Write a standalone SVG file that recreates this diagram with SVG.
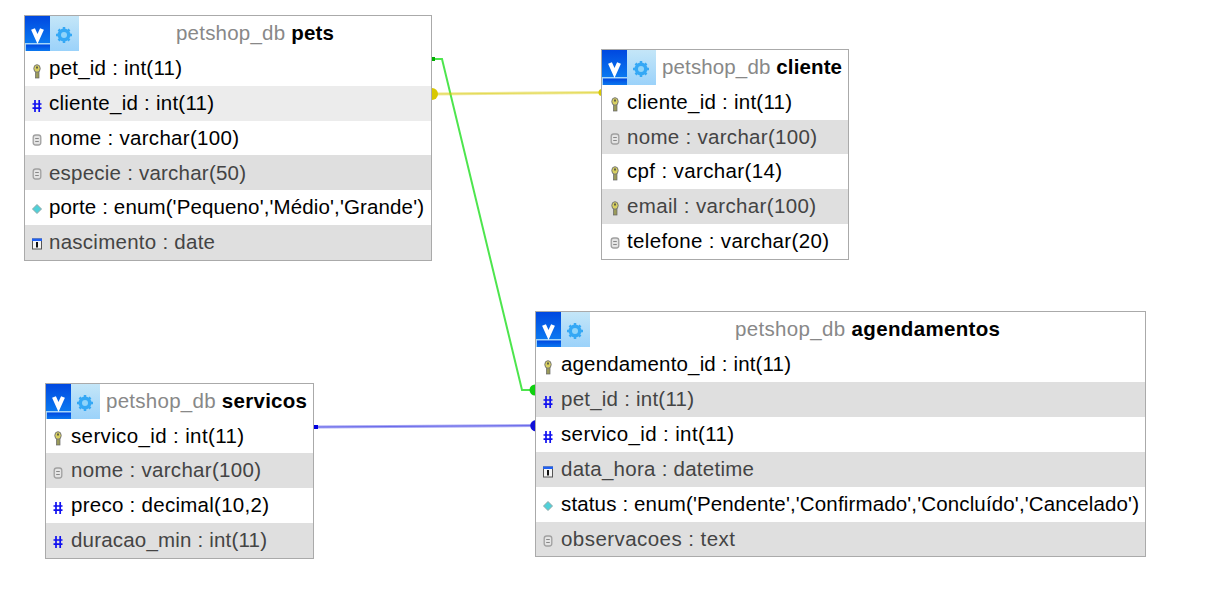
<svg xmlns="http://www.w3.org/2000/svg" width="1219" height="593" viewBox="0 0 1219 593">
<style>
text{font-family:"Liberation Sans",Arial,sans-serif;font-size:20.500px;fill:#000}
.box{fill:#fff;stroke:#aaa;stroke-width:1}
.alt{fill:#dfdfdf}
.hov{fill:#ececec}
.dim{fill:#444}
.db{fill:#888}
.tbl{font-weight:bold;fill:#000}
.halo{stroke-width:3;stroke-opacity:.4}
.core{stroke-width:1;stroke-opacity:.45}
</style>
<defs>
<linearGradient id="panel" x1="0" y1="0" x2="0" y2="1"><stop offset="0" stop-color="#c4e6f8"/><stop offset="1" stop-color="#9bd2fa"/></linearGradient>
<linearGradient id="blue" x1="0" y1="0" x2="0" y2="1"><stop offset="0" stop-color="#0048e0"/><stop offset="1" stop-color="#0a78f0"/></linearGradient>
<g id="logo">
<rect x="0" y="0" width="54" height="35" fill="url(#panel)"/>
<rect x="0" y="0" width="25" height="27" fill="url(#blue)"/>
<rect x="1" y="28.500" width="24" height="6.500" fill="url(#blue)"/>
<path d="M8 13L12.500 23L17 13" fill="none" stroke="#fff" stroke-width="4.200"/>
<circle cx="39" cy="19" r="6.500" fill="#35a8f5"/>
<path d="M39 11V27M31 19H47M33.500 13.500L44.500 24.500M44.500 13.500L33.500 24.500" stroke="#35a8f5" stroke-width="2.500"/>
<circle cx="39" cy="19" r="3" fill="#8fd4fa"/>
</g>
<g id="key"><rect x="-1.500" y="0" width="3.500" height="7" fill="#9a9a5a" stroke="#666" stroke-width=".7"/><ellipse cx="0" cy="-2.500" rx="3.200" ry="3.800" fill="#d8d060" stroke="#777" stroke-width="1"/><rect x="-.8" y="-4.500" width="1.600" height="2" fill="#444"/></g>
<g id="hash"><path d="M-2 -6L-2 6M2.200 -6L2.200 6M-4.500 -2H4.500M-4.500 2.200H4.500" stroke="#1010f0" stroke-width="1.700" fill="none"/></g>
<g id="doc"><rect x="-3.800" y="-5" width="7.600" height="10" rx="2.500" fill="#e4e4e4" stroke="#a0a0a0" stroke-width="1.300"/><path d="M-1.800 -1.500H1.800M-1.800 1.500H1.800" stroke="#888" stroke-width="1"/></g>
<g id="enum"><path d="M0 -4.500L4.500 0L0 4.500L-4.500 0Z" fill="#50d0d8" stroke="#90a8a8" stroke-width="1"/></g>
<g id="date"><rect x="-4.500" y="-5" width="9" height="10" fill="#f4f4f4" stroke="#555" stroke-width="1"/><rect x="-5" y="-5.500" width="10" height="2.500" fill="#2060f0"/><rect x="-1" y="-2" width="2" height="5.500" fill="#111"/></g>
</defs>
<g id="connectors" fill="none">
<path d="M432 59H442L522 390H535" stroke="#2ee02e" stroke-opacity=".85" stroke-width="2"/>
<rect x="431" y="57" width="4" height="4" fill="#00b000"/>
<path d="M535 384.500A5.500 5.500 0 0 0 535 395.500Z" fill="#10d010"/>
<path class="halo" d="M432 94L602 92.500" stroke="#d8c800"/>
<path class="core" d="M432 94L602 92.500" stroke="#d8c800"/>
<path d="M432 88A6 6 0 0 1 432 100Z" fill="#d8c800"/>
<path d="M602 89A3.500 3.500 0 0 0 602 96Z" fill="#d8c800"/>
<path class="halo" d="M315 427L536 425.500" stroke="#2020e0"/>
<path class="core" d="M315 427L536 425.500" stroke="#2020e0"/>
<rect x="314" y="425" width="4" height="4" fill="#0000e0"/>
<path d="M536 420A5.750 5.750 0 0 0 536 431.500Z" fill="#1010d8"/>
</g>
<g id="pets">
<rect class="box" x="24.500" y="15.500" width="407" height="245"/>
<rect class="hov" x="25" y="86" width="406" height="35"/>
<rect class="alt" x="25" y="155" width="406" height="35"/>
<rect class="alt" x="25" y="225" width="406" height="35"/>
<use href="#logo" x="25" y="16"/>
<text x="176" y="40" textLength="158"><tspan class="db">petshop_db </tspan><tspan class="tbl">pets</tspan></text>
<use href="#key" x="37" y="71"/><text x="49" y="75" textLength="133">pet_id : int(11)</text>
<use href="#hash" x="37" y="106"/><text x="49" y="110" textLength="165">cliente_id : int(11)</text>
<use href="#doc" x="37" y="140"/><text x="49" y="145" textLength="190">nome : varchar(100)</text>
<use href="#doc" x="37" y="174"/><text class="dim" x="49" y="180" textLength="197">especie : varchar(50)</text>
<use href="#enum" x="37" y="209"/><text x="49" y="214" textLength="375">porte : enum('Pequeno','Médio','Grande')</text>
<use href="#date" x="37" y="244"/><text class="dim" x="49" y="249" textLength="166">nascimento : date</text>
</g>
<g id="cliente">
<rect class="box" x="601.500" y="49.500" width="247" height="210"/>
<rect class="alt" x="602" y="120" width="246" height="34"/>
<rect class="alt" x="602" y="189" width="246" height="35"/>
<use href="#logo" x="602" y="50"/>
<text x="662" y="74" textLength="180"><tspan class="db">petshop_db </tspan><tspan class="tbl">cliente</tspan></text>
<use href="#key" x="615" y="104"/><text x="627" y="109" textLength="165">cliente_id : int(11)</text>
<use href="#doc" x="615" y="139"/><text class="dim" x="627" y="144" textLength="190">nome : varchar(100)</text>
<use href="#key" x="615" y="173"/><text x="627" y="178" textLength="155">cpf : varchar(14)</text>
<use href="#key" x="615" y="208"/><text class="dim" x="627" y="213" textLength="189">email : varchar(100)</text>
<use href="#doc" x="615" y="243"/><text x="627" y="248" textLength="202">telefone : varchar(20)</text>
</g>
<g id="agendamentos">
<rect class="box" x="535.500" y="311.500" width="610" height="245"/>
<rect class="alt" x="536" y="382" width="609" height="35"/>
<rect class="alt" x="536" y="452" width="609" height="35"/>
<rect class="alt" x="536" y="522" width="609" height="34"/>
<use href="#logo" x="536" y="312"/>
<text x="735" y="336" textLength="265"><tspan class="db">petshop_db </tspan><tspan class="tbl">agendamentos</tspan></text>
<use href="#key" x="548" y="367"/><text x="561" y="371" textLength="230">agendamento_id : int(11)</text>
<use href="#hash" x="548" y="402"/><text class="dim" x="561" y="406" textLength="133">pet_id : int(11)</text>
<use href="#hash" x="548" y="437"/><text x="561" y="441" textLength="173">servico_id : int(11)</text>
<use href="#date" x="548" y="472"/><text class="dim" x="561" y="476" textLength="193">data_hora : datetime</text>
<use href="#enum" x="548" y="506"/><text x="561" y="511" textLength="578">status : enum('Pendente','Confirmado','Concluído','Cancelado')</text>
<use href="#doc" x="548" y="541"/><text class="dim" x="561" y="546" textLength="174">observacoes : text</text>
</g>
<g id="servicos">
<rect class="box" x="45.500" y="383.500" width="268" height="175"/>
<rect class="alt" x="46" y="453" width="267" height="35"/>
<rect class="alt" x="46" y="523" width="267" height="35"/>
<use href="#logo" x="46" y="384"/>
<text x="106" y="408" textLength="201"><tspan class="db">petshop_db </tspan><tspan class="tbl">servicos</tspan></text>
<use href="#key" x="58" y="438"/><text x="71" y="443" textLength="173">servico_id : int(11)</text>
<use href="#doc" x="58" y="473"/><text class="dim" x="71" y="477" textLength="190">nome : varchar(100)</text>
<use href="#hash" x="58" y="508"/><text x="71" y="512" textLength="198">preco : decimal(10,2)</text>
<use href="#hash" x="58" y="542"/><text class="dim" x="71" y="547" textLength="196">duracao_min : int(11)</text>
</g>
</svg>
